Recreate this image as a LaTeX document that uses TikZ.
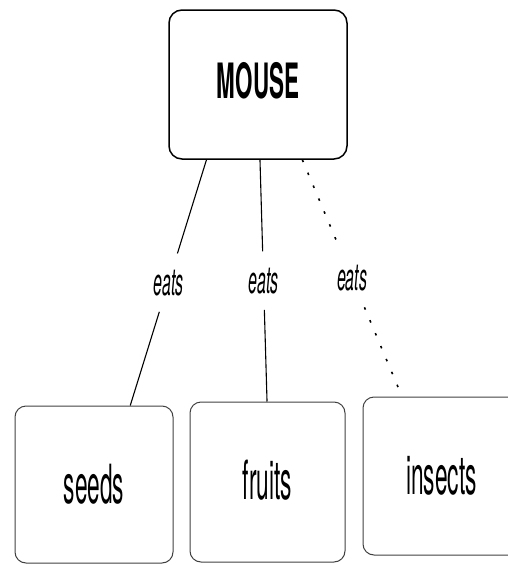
\documentclass[tikz,border=0pt]{standalone}
\usepackage{fontspec}
\setmainfont{TeX Gyre Heros}
\newfontfamily\narrowsans[FakeStretch=0.42]{TeX Gyre Heros}
\newfontfamily\narrowbold[FakeStretch=0.46]{TeX Gyre Heros Bold}
\usetikzlibrary{calc}
\begin{document}
\begin{tikzpicture}[x=1pt,y=-1pt,
  concept/.style={draw=black, rounded corners=13pt, line width=1.5pt, inner sep=0pt,
    font=\narrowbold\fontsize{48.7}{48.7}\selectfont},
  leaf/.style={draw=black!75, rounded corners=11pt, line width=1pt, inner sep=0pt,
    font=\narrowsans\fontsize{54}{54}\selectfont},
  relation/.style={font=\narrowsans\itshape\fontsize{38}{38}\selectfont, inner sep=0pt,
    minimum height=58pt, minimum width=34pt},
  link/.style={line width=1.1pt},
  maybe/.style={line width=1.6pt, dash pattern=on 2.5pt off 11.5pt}]
\useasboundingbox (0,0) rectangle (508,565);

% concept and the things it eats
\node[concept, minimum width=178pt, minimum height=149pt, text depth=8pt] (mouse) at (258,84.5) {MOUSE};
\node[leaf, minimum width=158pt, minimum height=157pt] (seeds) at (94,484.5) {seeds};
\node[leaf, minimum width=155pt, minimum height=160pt, text depth=4pt] (fruits) at (267.5,482) {fruits};
\node[leaf, minimum width=157pt, minimum height=158pt] (insects) at (441.5,476) {insects};

% attachment points on the box borders
\coordinate (m1) at ($(mouse.south west)!0.213!(mouse.south east)$);
\coordinate (m2) at ($(mouse.south west)!0.511!(mouse.south east)$);
\coordinate (m3) at ($(mouse.south west)!0.747!(mouse.south east)$);
\coordinate (s1) at ($(seeds.north west)!0.728!(seeds.north east)$);
\coordinate (f1) at ($(fruits.north west)!0.497!(fruits.north east)$);
\coordinate (i1) at ($(insects.north west)!0.25!(insects.north east)$);

% relation labels
\node[relation] (eat1) at ($(m1)!0.5!(s1)$) {eats};
\node[relation] (eat2) at ($(m2)!0.5!(f1)$) {eats};
\node[relation] (eat3) at ($(m3)!0.5!(i1)$) {eats};

% connectors
\draw[link] (m1) -- (eat1);
\draw[link] (eat1) -- (s1);
\draw[link] (m2) -- (eat2);
\draw[link] (eat2) -- (f1);
\draw[maybe] (m3) -- (eat3);
\draw[maybe] (eat3) -- (i1);
\end{tikzpicture}
\end{document}
